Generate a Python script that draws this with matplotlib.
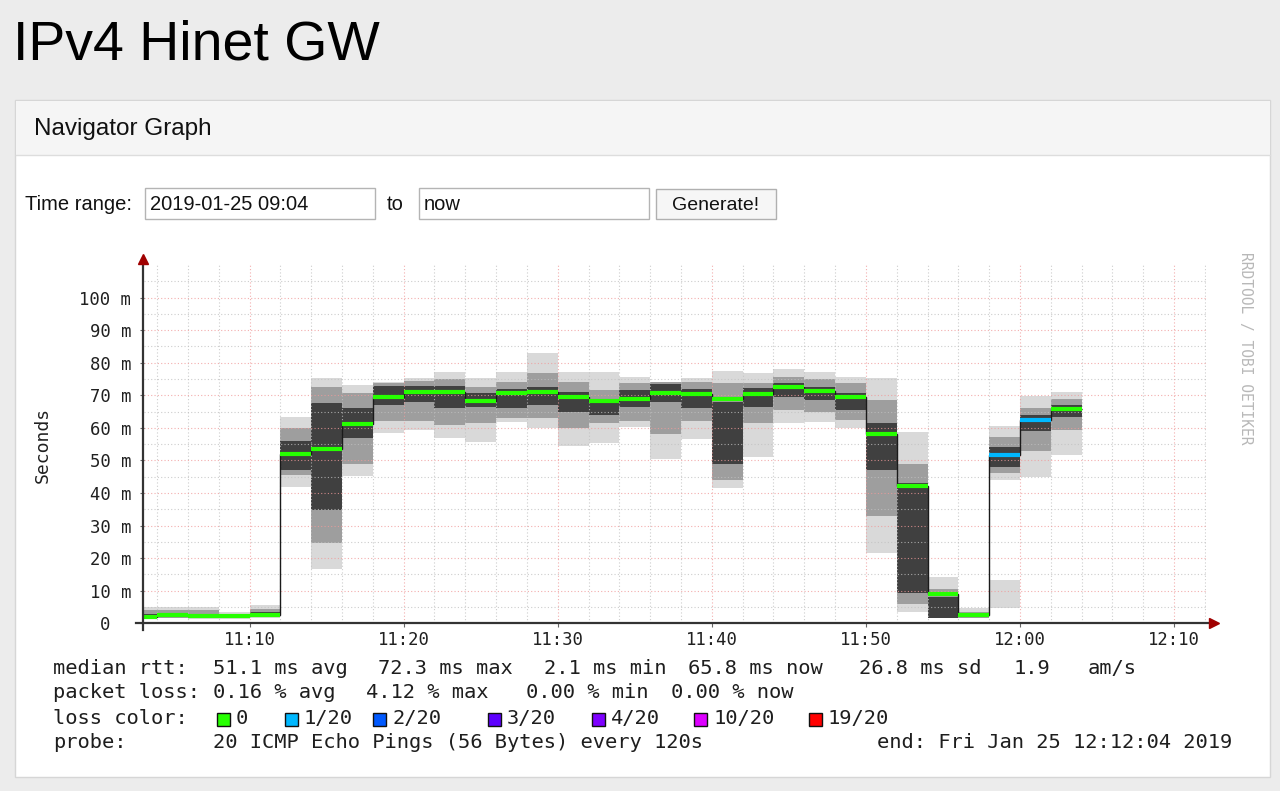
import numpy as np
import matplotlib.pyplot as plt
from matplotlib.patches import Rectangle
from matplotlib.ticker import MultipleLocator, FixedLocator

plt.rcParams['font.family'] = ['DejaVu Sans Mono']

# one SmokePing step every 120 s (start time of each step)
step_start = ['11:02', '11:04', '11:06', '11:08', '11:10', '11:12', '11:14', '11:16',
              '11:18', '11:20', '11:22', '11:24', '11:26', '11:28', '11:30', '11:32',
              '11:34', '11:36', '11:38', '11:40', '11:42', '11:44', '11:46', '11:48',
              '11:50', '11:52', '11:54', '11:56', '11:58', '12:00', '12:02']

# median rtt in ms
median = [2.0, 2.5, 2.2, 2.1, 2.5, 52.0, 53.4, 61.2, 69.5, 71.1, 71.1, 68.3, 70.6, 70.9, 69.6,
          68.3, 69.0, 70.8, 70.3, 69.0, 70.4, 72.6, 71.4, 69.5, 58.1, 42.1, 8.9, 2.4, 51.7, 62.4, 65.8]

# smoke: outer (light), middle and inner (dark) ping spread in ms
outer_lo = [1.2, 1.5, 1.2, 1.3, 1.5, 41.9, 16.6, 45.2, 58.3, 59.3, 57.0, 55.8, 61.9, 59.9, 54.4,
            55.2, 60.4, 50.3, 56.5, 41.4, 51.1, 61.4, 61.9, 59.9, 21.7, 3.6, 1.5, 1.5, 44.0, 45.0, 51.7]
outer_hi = [5.0, 5.0, 5.1, 3.5, 5.6, 63.4, 75.4, 73.2, 74.2, 75.4, 77.0, 75.4, 77.0, 82.9, 77.0,
            77.2, 75.7, 74.2, 75.2, 77.4, 76.7, 78.0, 77.2, 75.7, 75.2, 58.8, 14.3, 4.6, 60.6, 69.9, 71.1]
mid_lo = [1.5, 1.7, 1.5, 1.5, 1.8, 45.5, 24.5, 49.0, 62.0, 62.0, 61.0, 61.4, 63.0, 63.0, 60.0,
          61.4, 62.0, 58.0, 62.0, 44.0, 61.4, 65.5, 65.0, 62.4, 33.0, 6.0, 1.5, 1.7, 46.0, 53.0, 59.3]
mid_hi = [4.0, 4.0, 4.0, 3.0, 4.5, 60.0, 72.6, 70.6, 73.8, 74.5, 75.0, 72.6, 74.0, 76.8, 74.0,
          71.6, 73.7, 74.0, 74.0, 73.7, 73.7, 75.7, 75.0, 73.7, 68.5, 49.0, 10.5, 3.5, 57.3, 66.0, 69.0]
inner_lo = [1.8, 2.0, 1.8, 1.7, 2.0, 47.0, 34.8, 57.0, 67.0, 68.0, 66.0, 66.5, 66.0, 67.0, 65.0,
            63.9, 66.5, 68.0, 66.0, 49.0, 66.5, 69.6, 68.5, 65.5, 47.0, 9.2, 1.6, 2.0, 48.1, 59.0, 63.4]
inner_hi = [3.0, 3.2, 3.0, 2.6, 3.5, 56.0, 67.5, 66.0, 73.0, 73.0, 73.0, 70.6, 72.0, 72.5, 71.0,
            69.0, 71.6, 73.5, 72.0, 68.0, 72.1, 73.7, 72.5, 70.6, 61.4, 43.0, 8.0, 3.0, 54.2, 64.0, 67.0]

# separate low outlier block in the 11:58 step
outlier_step = '11:58'
outlier_lo = 4.6
outlier_hi = 13.3

# lost pings out of 20 per step
loss = [0, 0, 0, 0, 0, 0, 0, 0, 0, 0, 0, 0, 0, 0, 0, 0,
        0, 0, 0, 0, 0, 0, 0, 0, 0, 0, 0, 0, 1, 1, 0]

loss_steps = [0, 1, 2, 3, 4, 10, 19]
loss_labels = ['0', '1/20', '2/20', '3/20', '4/20', '10/20', '19/20']
loss_colors = ['#26ff00', '#00b8ff', '#0059ff', '#5e00ff', '#7e00ff', '#dd00ff', '#ff0000']

x_ticks = [10, 20, 30, 40, 50, 60, 70]
x_labels = ['11:10', '11:20', '11:30', '11:40', '11:50', '12:00', '12:10']
y_ticks = [0, 10, 20, 30, 40, 50, 60, 70, 80, 90, 100]
y_labels = ['0  ', '10 m', '20 m', '30 m', '40 m', '50 m', '60 m', '70 m', '80 m', '90 m', '100 m']

t_start = 3.17   # 11:03:10
t_end = 72.07    # 12:12:04


def to_min(s):
    return int(s[:2]) * 60 + int(s[3:]) - 660


fig = plt.figure(figsize=(12.8, 7.91), dpi=100, facecolor='#ececec')

# page background in pixel coordinates
bg = fig.add_axes([0, 0, 1, 1])
bg.set_xlim(0, 1280)
bg.set_ylim(791, 0)
bg.axis('off')

sans = 'Liberation Sans'
bg.text(13, 46, 'IPv4 Hinet GW', family=sans, fontsize=40, va='center', color='#000')
bg.add_patch(Rectangle((15, 100), 1255, 677, fc='white', ec='#d6d6d6', lw=1))
bg.add_patch(Rectangle((15.5, 100.5), 1254, 55, fc='#f5f5f5', ec='none'))
bg.plot([15.5, 1269.5], [155, 155], color='#dddddd', lw=1)
bg.text(34, 129, 'Navigator Graph', family=sans, fontsize=17.5, va='center', color='#111')

bg.text(25, 205, 'Time range:', family=sans, fontsize=14.5, va='center', color='#111')
bg.add_patch(Rectangle((145, 188), 230, 31, fc='white', ec='#b4b4b4', lw=1))
bg.text(150, 205, '2019-01-25 09:04', family=sans, fontsize=14.5, va='center', color='#111')
bg.text(387, 205, 'to', family=sans, fontsize=14.5, va='center', color='#111')
bg.add_patch(Rectangle((419, 188), 230, 31, fc='white', ec='#b4b4b4', lw=1))
bg.text(424, 205, 'now', family=sans, fontsize=14.5, va='center', color='#111')
bg.add_patch(Rectangle((656, 189), 120, 30, fc='#f6f6f6', ec='#b0b0b0', lw=1))
bg.text(716, 205, 'Generate!', family=sans, fontsize=14, va='center', ha='center', color='#111')

# graph
ax = fig.add_axes([144.3 / 1280, 1 - 623.3 / 791, (1206 - 144.3) / 1280, (623.3 - 265) / 791],
                  zorder=3)
ax.set_facecolor('white')

t = np.array([to_min(s) for s in step_start], dtype=float)
edges = np.append(t, t[-1] + 2)

ax.bar(t, np.subtract(outer_hi, outer_lo), bottom=outer_lo, width=2, align='edge',
       color='#d9d9d9', lw=0, zorder=1)
ax.bar([to_min(outlier_step)], [outlier_hi - outlier_lo], bottom=[outlier_lo], width=2,
       align='edge', color='#d9d9d9', lw=0, zorder=1)
ax.bar(t, np.subtract(mid_hi, mid_lo), bottom=mid_lo, width=2, align='edge',
       color='#9e9e9e', lw=0, zorder=1)
ax.bar(t, np.subtract(inner_hi, inner_lo), bottom=inner_lo, width=2, align='edge',
       color='#404040', lw=0, zorder=1)

step_colors = [loss_colors[loss_steps.index(l)] for l in loss]
ax.stairs(median, edges, baseline=None, color='#1a1a1a', lw=1.0, zorder=4)
ax.hlines(median, t, t + 2, colors=step_colors, lw=3.0, zorder=5)

ax.set_xlim(t_start, t_end)
ax.set_ylim(0, 110)
ax.set_xticks(x_ticks, x_labels)
ax.set_yticks(y_ticks, y_labels)
ax.xaxis.set_minor_locator(MultipleLocator(2))
ax.yaxis.set_minor_locator(FixedLocator(np.arange(5, 106, 5)))
ax.set_axisbelow(False)
ax.grid(which='major', color='#f09a9a', ls=(0, (1, 2)), lw=0.8, alpha=0.8)
ax.grid(which='minor', color='#c0c0c0', ls=(0, (1, 2)), lw=0.8, alpha=0.8)
ax.tick_params(which='major', length=3, width=0.8, color='#666', labelsize=12.4,
               labelcolor='#202020')
ax.tick_params(axis='y', pad=6.5)
ax.tick_params(axis='x', pad=2.5)
ax.tick_params(which='minor', length=0)
for s in ax.spines.values():
    s.set_visible(False)

# axis lines with arrows
ax.plot([-0.008, 1.005], [0, 0], transform=ax.transAxes, color='#333', lw=1.6,
        clip_on=False, zorder=6)
ax.plot([-0.001, -0.001], [-0.018, 1.008], transform=ax.transAxes, color='#333', lw=1.6,
        clip_on=False, zorder=6)
ax.plot([1.0075], [0], marker='>', ms=6.5, color='#a00000', transform=ax.transAxes,
        clip_on=False, zorder=7)
ax.plot([-0.001], [1.016], marker='^', ms=6.5, color='#a00000', transform=ax.transAxes,
        clip_on=False, zorder=7)

bg.text(43, 445, 'Seconds', rotation=90, fontsize=13, va='center', ha='center', color='#202020')
bg.text(1245, 348, 'RRDTOOL / TOBI OETIKER', rotation=270, fontsize=10.5, va='center',
        ha='center', color='#b8b8b8')

# legend block
txt = dict(fontsize=14.7, va='center', color='#1e1e1e')
line1 = [(53, 'median rtt:'), (213, '51.1 ms avg'), (378, '72.3 ms max'), (544, '2.1 ms min'),
         (688, '65.8 ms now'), (859, '26.8 ms sd'), (1013, '1.9'), (1088, 'am/s')]
line2 = [(53, 'packet loss:'), (213, '0.16 % avg'), (366, '4.12 % max'), (526, '0.00 % min'),
         (671, '0.00 % now')]
for x, s in line1:
    bg.text(x, 668, s, **txt)
for x, s in line2:
    bg.text(x, 693, s, **txt)

bg.text(53, 719, 'loss color:', **txt)
box_x = [217, 285, 373, 488, 592, 694, 809]
for bx, lab, col in zip(box_x, loss_labels, loss_colors):
    bg.add_patch(Rectangle((bx, 713), 13, 13, fc=col, ec='#111', lw=1))
    bg.text(bx + 19, 719, lab, **txt)

bg.text(53, 743, 'probe:', **txt)
bg.text(213, 743, '20 ICMP Echo Pings (56 Bytes) every 120s', **txt)
bg.text(1232, 743, 'end: Fri Jan 25 12:12:04 2019', ha='right', fontsize=14.7, va='center',
        color='#1e1e1e')

fig.savefig('out.png', dpi=100, facecolor=fig.get_facecolor())
